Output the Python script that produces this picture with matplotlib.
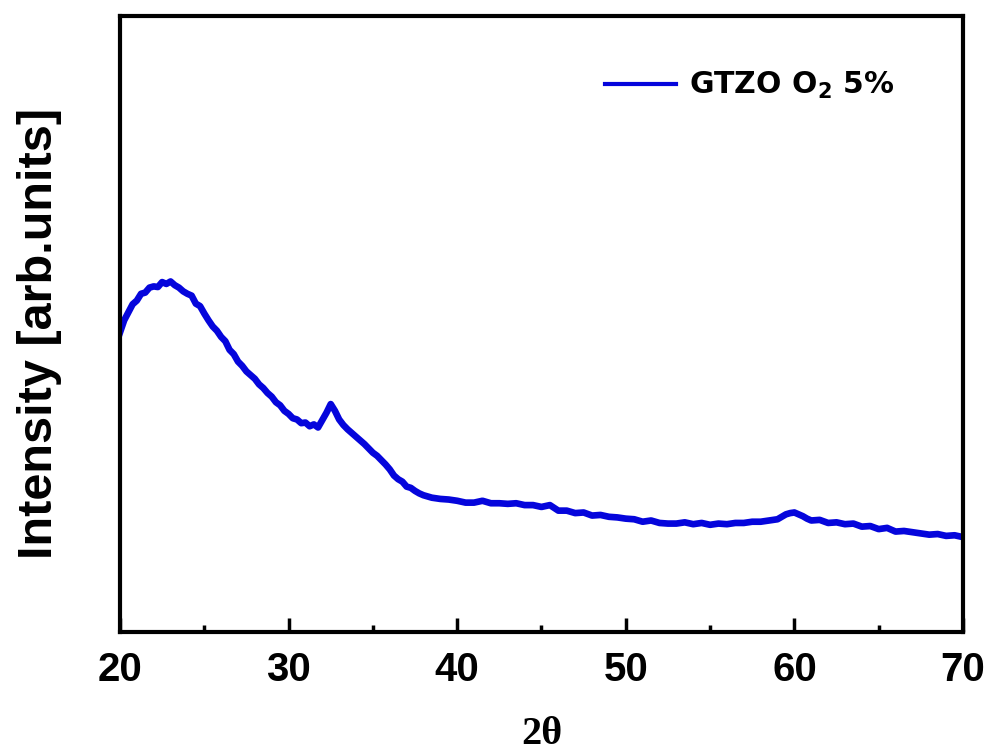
import matplotlib
matplotlib.use("Agg")
import matplotlib.pyplot as plt
from matplotlib.ticker import MultipleLocator, NullLocator

two_theta = [20.0, 20.25, 20.5, 20.75, 21.0, 21.25, 21.5, 21.75, 22.0, 22.25, 22.5, 22.75, 23.0, 23.25, 23.5, 23.75,
             24.0, 24.25, 24.5, 24.75, 25.0, 25.25, 25.5, 25.75, 26.0, 26.25, 26.5, 26.75, 27.0, 27.25, 27.5, 27.75,
             28.0, 28.25, 28.5, 28.75, 29.0, 29.25, 29.5, 29.75, 30.0, 30.25, 30.5, 30.75, 31.0, 31.25, 31.5, 31.75,
             32.0, 32.25, 32.5, 32.75, 33.0, 33.25, 33.5, 33.75, 34.0, 34.25, 34.5, 34.75, 35.0, 35.25, 35.5, 35.75,
             36.0, 36.25, 36.5, 36.75, 37.0, 37.25, 37.5, 37.75, 38.0, 38.5, 39.0, 39.5, 40.0, 40.5, 41.0, 41.5,
             42.0, 42.5, 43.0, 43.5, 44.0, 44.5, 45.0, 45.5, 46.0, 46.5, 47.0, 47.5, 48.0, 48.5, 49.0, 49.5,
             50.0, 50.5, 51.0, 51.5, 52.0, 52.5, 53.0, 53.5, 54.0, 54.5, 55.0, 55.5, 56.0, 56.5, 57.0, 57.5,
             58.0, 58.5, 59.0, 59.25, 59.5, 59.75, 60.0, 60.25, 60.5, 60.75, 61.0, 61.5, 62.0, 62.5, 63.0, 63.5,
             64.0, 64.5, 65.0, 65.5, 66.0, 66.5, 67.0, 67.5, 68.0, 68.5, 69.0, 69.5, 70.0]
intensity = [48.6, 50.6, 51.9, 53.2, 53.8, 54.9, 55.1, 55.9, 56.1, 56.0, 56.8, 56.5, 56.9, 56.3, 55.9, 55.3,
             54.9, 54.6, 53.3, 52.9, 51.7, 50.6, 49.6, 48.9, 47.9, 47.2, 45.8, 45.1, 43.9, 43.2, 42.3, 41.7,
             41.1, 40.2, 39.6, 38.8, 38.2, 37.3, 36.8, 35.9, 35.4, 34.7, 34.5, 33.9, 34.0, 33.4, 33.7, 33.2,
             34.4, 35.6, 37.0, 35.9, 34.5, 33.6, 32.9, 32.3, 31.7, 31.1, 30.5, 29.8, 29.1, 28.6, 27.9, 27.2,
             26.4, 25.4, 24.8, 24.4, 23.6, 23.4, 22.9, 22.5, 22.2, 21.8, 21.6, 21.5, 21.3, 21.0, 21.0, 21.3,
             20.9, 20.9, 20.8, 20.9, 20.6, 20.6, 20.3, 20.6, 19.7, 19.7, 19.3, 19.4, 18.9, 19.0, 18.7, 18.6,
             18.4, 18.3, 17.9, 18.1, 17.7, 17.6, 17.6, 17.8, 17.5, 17.7, 17.4, 17.6, 17.5, 17.7, 17.7, 17.9,
             17.9, 18.1, 18.3, 18.7, 19.1, 19.3, 19.4, 19.1, 18.8, 18.4, 18.1, 18.2, 17.7, 17.8, 17.5, 17.6,
             17.1, 17.2, 16.7, 16.9, 16.3, 16.4, 16.2, 16.0, 15.8, 15.9, 15.6, 15.7, 15.4]

series_label = "GTZO O$_\\mathbf{2}$ 5%"
x_ticks = [20, 30, 40, 50, 60, 70]

fig = plt.figure(figsize=(9.89, 7.53), dpi=100)
ax = fig.add_axes([0.1213, 0.1607, 0.8524, 0.8181])

ax.plot(two_theta, intensity, color="#0505dc", lw=4.8, solid_joinstyle="round", label=series_label)

ax.set_xlim(20, 70)
ax.set_ylim(0, 100)
ax.set_xticks(x_ticks)
ax.xaxis.set_minor_locator(MultipleLocator(5))
ax.yaxis.set_major_locator(NullLocator())
ax.tick_params(axis="x", which="major", direction="in", length=10, width=2.5, pad=14)
ax.tick_params(axis="x", which="minor", direction="in", length=5, width=2.5)
for lab in ax.get_xticklabels():
    lab.set_fontfamily("Liberation Sans")
    lab.set_fontweight("bold")
    lab.set_fontsize(29)
for sp in ax.spines.values():
    sp.set_linewidth(3)

ax.set_xlabel("2θ", family="Liberation Serif", fontweight="bold", fontsize=29, labelpad=19)
ax.set_ylabel("Intensity [arb.units]", family="Liberation Sans", fontweight="bold", fontsize=35, labelpad=42)
ax.yaxis.label.set_y(0.485)

leg = ax.legend(loc="center left", frameon=False, handlelength=2.4, handletextpad=0.42,
                borderpad=0, borderaxespad=0,
                prop={"family": "DejaVu Sans", "weight": "bold", "size": 21.5},
                bbox_to_anchor=(0.575, 0.887))
for h in leg.get_lines():
    h.set_linewidth(3)

fig.savefig("out.png", dpi=100)
